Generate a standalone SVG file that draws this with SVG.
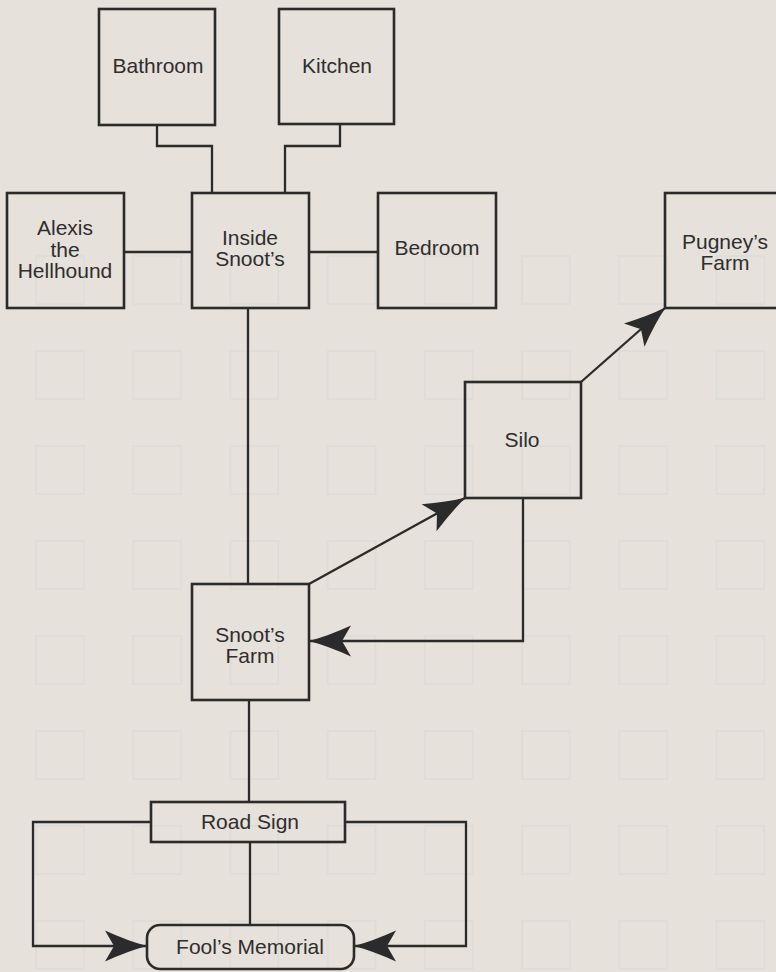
<svg xmlns="http://www.w3.org/2000/svg" width="776" height="972" viewBox="0 0 776 972">
<style>
.box{fill:none;stroke:#2b2b2b;stroke-width:2.6}
.lbl{font-family:"Liberation Sans",Arial,sans-serif;font-size:21px;fill:#2e2e2e;text-anchor:middle}
.con{fill:none;stroke:#2b2b2b;stroke-width:2.3}
</style>
<defs>
<pattern id="bgmap" x="35" y="255" width="97.2" height="95" patternUnits="userSpaceOnUse">
<rect x="1" y="1" width="48" height="48" fill="none" stroke="#dcdcd6" stroke-width="1.6"/>
</pattern>
<marker id="arr" markerUnits="userSpaceOnUse" markerWidth="50" markerHeight="40" viewBox="-46 -20 48 40" refX="0" refY="0" orient="auto">
<path d="M1,0 Q-18,-5 -41,-15.5 L-32,0 L-41,15.5 Q-18,5 1,0 Z" fill="#2b2b2b"/>
</marker>
</defs>
<rect width="776" height="972" fill="#e6e1db"/>
<rect x="0" y="250" width="776" height="722" fill="url(#bgmap)"/>
<g id="connectors">
<path class="con" d="M157,125 V146 H212 V193"/>
<path class="con" d="M340,124 V146 H285 V193"/>
<path class="con" d="M124,252 H192"/>
<path class="con" d="M309,252 H378"/>
<path class="con" d="M248,308 V584"/>
<path class="con" d="M309,584 L465,498" marker-end="url(#arr)"/>
<path class="con" d="M581,382 L665,308" marker-end="url(#arr)"/>
<path class="con" d="M523,498 V641 H310" marker-end="url(#arr)"/>
<path class="con" d="M249,700 V802"/>
<path class="con" d="M250,842 V925"/>
<path class="con" d="M151,822 H33 V946 H146" marker-end="url(#arr)"/>
<path class="con" d="M345,822 H466 V946 H355" marker-end="url(#arr)"/>
</g>
<g id="bathroom"><rect class="box" x="99" y="9" width="116" height="116"/><text class="lbl" x="158" y="73">Bathroom</text></g>
<g id="kitchen"><rect class="box" x="279" y="9" width="115" height="115"/><text class="lbl" x="337" y="73">Kitchen</text></g>
<g id="alexis"><rect class="box" x="7" y="193" width="117" height="115"/><text class="lbl" x="65" y="235">Alexis</text><text class="lbl" x="65" y="257">the</text><text class="lbl" x="65" y="278">Hellhound</text></g>
<g id="inside-snoots"><rect class="box" x="192" y="193" width="117" height="115"/><text class="lbl" x="250" y="245">Inside</text><text class="lbl" x="250" y="266">Snoot’s</text></g>
<g id="bedroom"><rect class="box" x="378" y="193" width="118" height="115"/><text class="lbl" x="437" y="255">Bedroom</text></g>
<g id="pugneys-farm"><rect class="box" x="665" y="193" width="118" height="115"/><text class="lbl" x="725" y="249">Pugney’s</text><text class="lbl" x="725" y="270">Farm</text></g>
<g id="silo"><rect class="box" x="465" y="382" width="116" height="116"/><text class="lbl" x="522" y="447">Silo</text></g>
<g id="snoots-farm"><rect class="box" x="192" y="584" width="117" height="116"/><text class="lbl" x="250" y="642">Snoot’s</text><text class="lbl" x="250" y="663">Farm</text></g>
<g id="road-sign"><rect class="box" x="151" y="802" width="194" height="40"/><text class="lbl" x="250" y="829">Road Sign</text></g>
<g id="fools-memorial"><rect class="box" x="147" y="925" width="207" height="44" rx="13" ry="13"/><text class="lbl" x="250" y="954">Fool’s Memorial</text></g>
</svg>
